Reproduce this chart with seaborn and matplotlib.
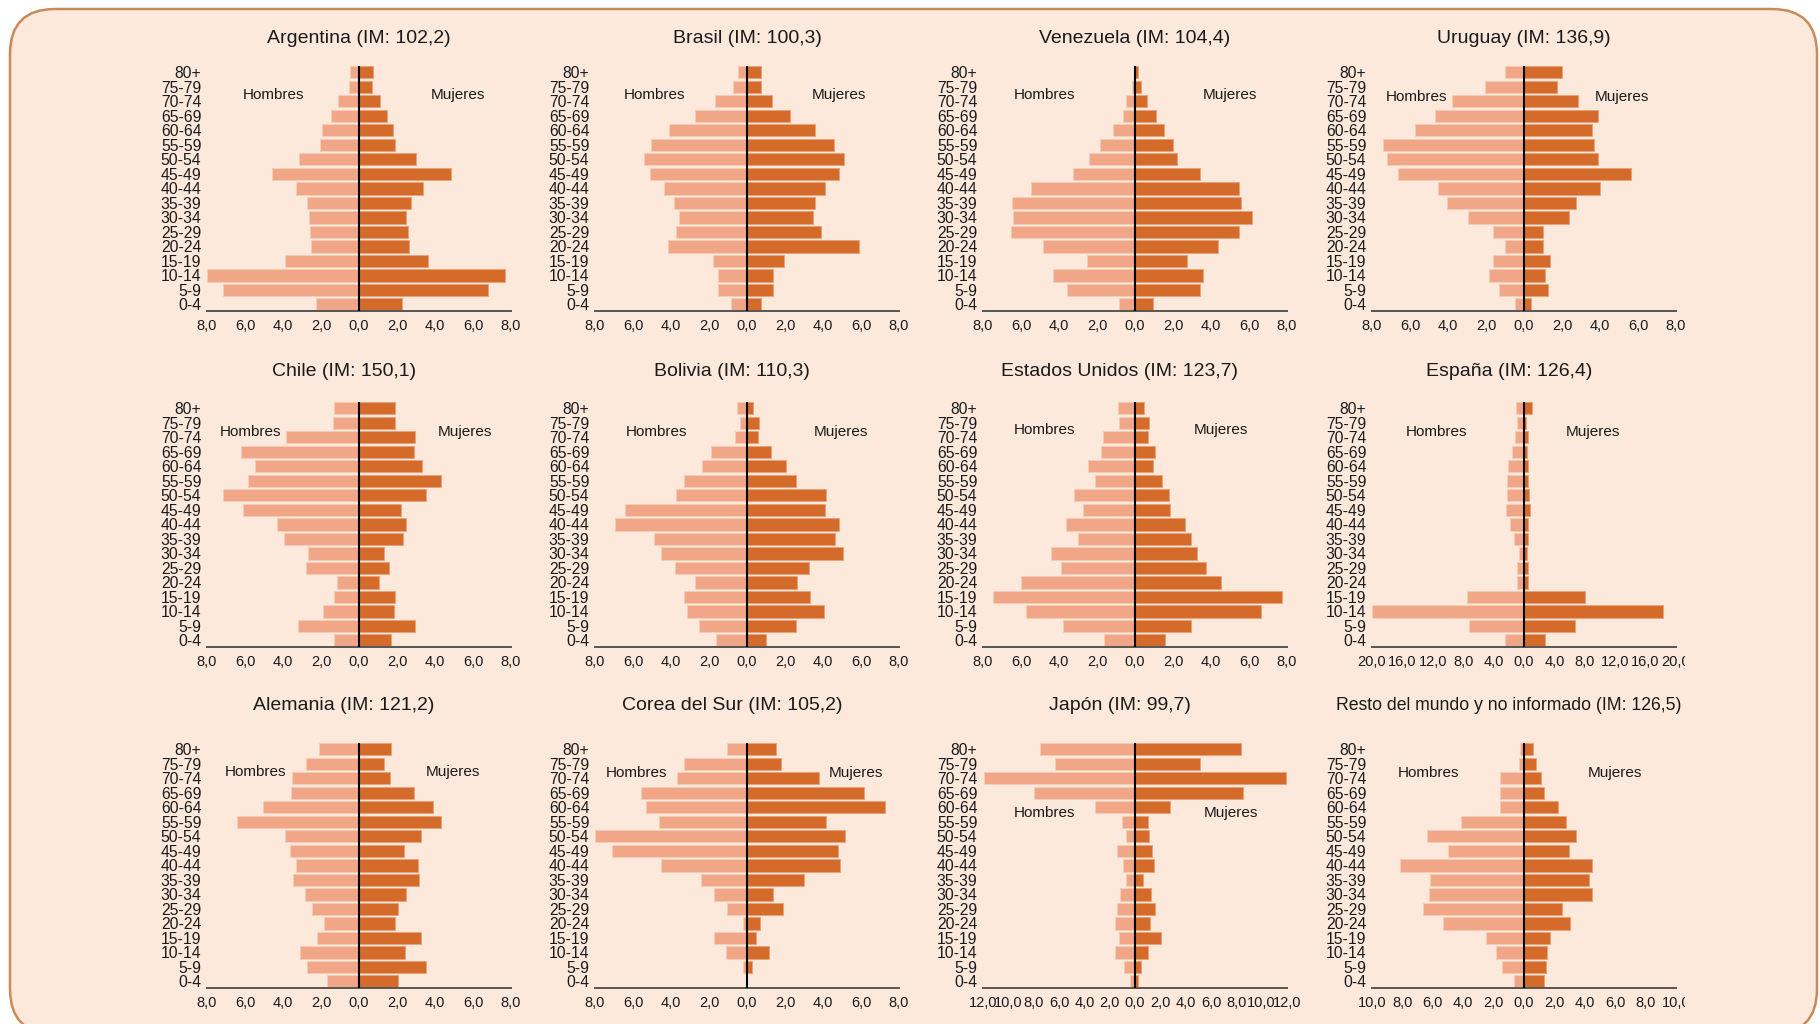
import matplotlib
matplotlib.use("Agg")
import matplotlib.pyplot as plt
import seaborn as sns
import numpy as np
from matplotlib.patches import FancyBboxPatch
from matplotlib.transforms import Bbox, TransformedBbox

# age groups, top of the pyramid first
ages = ['80+', '75-79', '70-74', '65-69', '60-64', '55-59', '50-54', '45-49', '40-44',
        '35-39', '30-34', '25-29', '20-24', '15-19', '10-14', '5-9', '0-4']

countries = ['Argentina', 'Brasil', 'Venezuela', 'Uruguay',
             'Chile', 'Bolivia', 'Estados Unidos', 'España',
             'Alemania', 'Corea del Sur', 'Japón', 'Resto del mundo y no informado']
im_values = ['102,2', '100,3', '104,4', '136,9',
             '150,1', '110,3', '123,7', '126,4',
             '121,2', '105,2', '99,7', '126,5']
x_max = [8, 8, 8, 8, 8, 8, 8, 20, 8, 8, 12, 10]
x_step = [2, 2, 2, 2, 2, 2, 2, 4, 2, 2, 2, 2]

# % of population (hombres / mujeres), same order as ages
argentina_h = [0.47, 0.53, 1.1, 1.45, 1.96, 2.07, 3.16, 4.58, 3.3, 2.72, 2.65, 2.6, 2.53, 3.91, 8.0, 7.18, 2.28]
argentina_m = [0.74, 0.68, 1.09, 1.49, 1.81, 1.88, 3.0, 4.82, 3.37, 2.72, 2.46, 2.6, 2.65, 3.65, 7.68, 6.77, 2.28]
brasil_h = [0.46, 0.74, 1.69, 2.74, 4.08, 5.06, 5.43, 5.08, 4.38, 3.85, 3.6, 3.73, 4.17, 1.81, 1.53, 1.53, 0.84]
brasil_m = [0.74, 0.74, 1.32, 2.25, 3.57, 4.59, 5.13, 4.82, 4.08, 3.6, 3.46, 3.92, 5.92, 1.97, 1.37, 1.37, 0.72]
venezuela_h = [0.05, 0.14, 0.46, 0.61, 1.18, 1.82, 2.42, 3.28, 5.49, 6.49, 6.42, 6.54, 4.86, 2.51, 4.32, 3.56, 0.82]
venezuela_m = [0.14, 0.32, 0.61, 1.12, 1.53, 1.98, 2.21, 3.44, 5.49, 5.6, 6.18, 5.49, 4.39, 2.75, 3.58, 3.44, 0.93]
uruguay_h = [0.98, 2.04, 3.77, 4.67, 5.74, 7.4, 7.23, 6.63, 4.54, 4.05, 2.93, 1.61, 0.98, 1.61, 1.82, 1.33, 0.49]
uruguay_m = [2.0, 1.74, 2.86, 3.88, 3.58, 3.7, 3.89, 5.65, 4.0, 2.72, 2.35, 1.02, 1.02, 1.35, 1.1, 1.28, 0.37]
chile_h = [1.32, 1.37, 3.86, 6.21, 5.49, 5.84, 7.16, 6.1, 4.32, 3.95, 2.68, 2.79, 1.18, 1.32, 1.89, 3.21, 1.32]
chile_m = [1.89, 1.89, 2.96, 2.89, 3.33, 4.33, 3.54, 2.23, 2.46, 2.3, 1.33, 1.56, 1.05, 1.89, 1.84, 2.96, 1.68]
bolivia_h = [0.51, 0.39, 0.61, 1.91, 2.37, 3.3, 3.72, 6.4, 6.95, 4.89, 4.54, 3.81, 2.72, 3.3, 3.16, 2.54, 1.61]
bolivia_m = [0.33, 0.65, 0.56, 1.26, 2.07, 2.56, 4.18, 4.11, 4.84, 4.61, 5.05, 3.25, 2.63, 3.32, 4.05, 2.56, 1.02]
eeuu_h = [0.89, 0.82, 1.68, 1.77, 2.49, 2.09, 3.19, 2.75, 3.61, 3.0, 4.44, 3.91, 5.98, 7.46, 5.75, 3.81, 1.65]
eeuu_m = [0.46, 0.72, 0.67, 1.07, 0.93, 1.44, 1.77, 1.84, 2.63, 2.96, 3.28, 3.74, 4.53, 7.74, 6.63, 2.96, 1.58]
espana_h = [1.1, 0.93, 1.2, 1.55, 2.13, 2.22, 2.26, 2.35, 1.82, 1.37, 0.71, 0.98, 0.89, 7.54, 20.0, 7.18, 2.48]
espana_m = [1.11, 0.27, 0.53, 0.44, 0.58, 0.49, 0.71, 0.8, 0.53, 0.53, 0.44, 0.58, 0.53, 8.03, 18.27, 6.65, 2.79]
alemania_h = [2.09, 2.77, 3.51, 3.6, 5.04, 6.44, 3.89, 3.63, 3.3, 3.49, 2.86, 2.49, 1.82, 2.19, 3.1, 2.72, 1.7]
alemania_m = [1.67, 1.32, 1.63, 2.91, 3.88, 4.32, 3.28, 2.39, 3.12, 3.14, 2.47, 2.05, 1.89, 3.26, 2.4, 3.51, 2.05]
corea_h = [1.07, 3.33, 3.68, 5.58, 5.3, 4.65, 8.0, 7.12, 4.51, 2.4, 1.72, 1.07, 0.23, 1.72, 1.09, 0.23, 0.0]
corea_m = [1.53, 1.79, 3.77, 6.14, 7.28, 4.18, 5.18, 4.81, 4.89, 3.0, 1.37, 1.88, 0.67, 0.46, 1.18, 0.25, 0.0]
japon_h = [7.52, 6.29, 11.92, 7.97, 3.17, 1.04, 0.72, 1.41, 0.93, 0.72, 1.2, 1.44, 1.55, 1.28, 1.55, 0.88, 0.4]
japon_m = [8.37, 5.15, 11.95, 8.53, 2.75, 0.99, 1.12, 1.36, 1.47, 0.61, 1.28, 1.55, 1.2, 2.03, 0.99, 0.48, 0.24]
resto_h = [0.27, 0.35, 1.6, 1.6, 1.6, 4.15, 6.41, 4.97, 8.18, 6.21, 6.27, 6.65, 5.3, 2.53, 1.82, 1.44, 0.64]
resto_m = [0.62, 0.78, 1.13, 1.33, 2.22, 2.75, 3.39, 2.93, 4.48, 4.28, 4.48, 2.48, 3.02, 1.69, 1.51, 1.44, 1.33]

hombres = [argentina_h, brasil_h, venezuela_h, uruguay_h, chile_h, bolivia_h,
           eeuu_h, espana_h, alemania_h, corea_h, japon_h, resto_h]
mujeres = [argentina_m, brasil_m, venezuela_m, uruguay_m, chile_m, bolivia_m,
           eeuu_m, espana_m, alemania_m, corea_m, japon_m, resto_m]

# where the "Hombres" / "Mujeres" words go (x hombres, x mujeres, row position)
label_pos = [(-4.5, 5.2, 1.56), (-4.86, 4.84, 1.56), (-4.74, 5.0, 1.56), (-5.65, 5.18, 1.72),
             (-5.7, 5.6, 1.65), (-4.77, 4.96, 1.65), (-4.74, 4.53, 1.5), (-11.57, 9.05, 1.65),
             (-5.44, 4.96, 1.6), (-5.79, 5.72, 1.65), (-7.15, 7.6, 4.41), (-6.3, 5.96, 1.65)]

BG = '#FCE9DC'
MALE = '#F0A687'
FEMALE = '#D46B2B'
TEXT = '#1a1a1a'

sns.set_style('white')
plt.rcParams['font.family'] = ['Liberation Sans', 'DejaVu Sans']

W, H = 1820, 1024
fig = plt.figure(figsize=(W / 100, H / 100), dpi=100, facecolor='white')

# rounded card behind the charts
card = FancyBboxPatch((0.10, -0.10), 18.07, 10.25, boxstyle='round,pad=0,rounding_size=0.45',
                      transform=fig.dpi_scale_trans, facecolor=BG, edgecolor='#C98A5A',
                      linewidth=1.8, zorder=-10)
fig.patches.append(card)

col_left = [207, 595, 983, 1372]
row_bottom = [311, 647, 988]
title_pad = [16.5, 19, 23.5]
title_x = [0.5, 0.45, 0.45]
ax_w, ax_h = 304, 245

for i, country in enumerate(countries):
    r, c = divmod(i, 4)
    ax = fig.add_axes([col_left[c] / W, 1 - row_bottom[r] / H, ax_w / W, ax_h / H])
    ax.set_facecolor('none')

    sns.barplot(x=-np.array(hombres[i]), y=ages, order=ages, orient='h', color=MALE,
                saturation=1, width=0.85, edgecolor='#F6CDB6', linewidth=0.6, ax=ax)
    sns.barplot(x=np.array(mujeres[i]), y=ages, order=ages, orient='h', color=FEMALE,
                saturation=1, width=0.85, edgecolor='#E9A27A', linewidth=0.6, ax=ax)
    ax.axvline(0, color='black', lw=1.5, zorder=5)

    m = x_max[i]
    ticks = np.arange(-m, m + x_step[i] / 2, x_step[i])
    ax.set_xlim(-m, m)
    ax.set_ylim(16.45, -0.43)
    ax.set_xticks(ticks)
    ax.set_xticklabels([f'{abs(t):.1f}'.replace('.', ',') for t in ticks])
    ax.tick_params(axis='both', length=0, labelcolor=TEXT)
    ax.tick_params(axis='x', pad=6, labelsize=10.5)
    ax.tick_params(axis='y', pad=4, labelsize=11.3)
    ax.set_xlabel('')
    ax.set_ylabel('')

    for side in ['top', 'right', 'left']:
        ax.spines[side].set_visible(False)
    ax.spines['bottom'].set_color('#555555')
    ax.spines['bottom'].set_linewidth(1.4)

    tsize = 12.7 if i == 11 else 14
    ax.set_title(f'{country} (IM: {im_values[i]})', fontsize=tsize, color=TEXT,
                 pad=title_pad[r], x=title_x[r])

    hx, mx, ly = label_pos[i]
    ax.text(hx, ly, 'Hombres', ha='center', va='center', fontsize=11, color=TEXT)
    ax.text(mx, ly, 'Mujeres', ha='center', va='center', fontsize=11, color=TEXT)

    # the right-most column is cut off at the edge of its container
    if c == 3:
        clip = TransformedBbox(Bbox([[0, 0], [16.845, 10.24]]), fig.dpi_scale_trans)
        for lab in ax.get_xticklabels():
            lab.set_clip_box(clip)
            lab.set_clip_on(True)

fig.savefig('out.png', dpi=100, facecolor='white')
